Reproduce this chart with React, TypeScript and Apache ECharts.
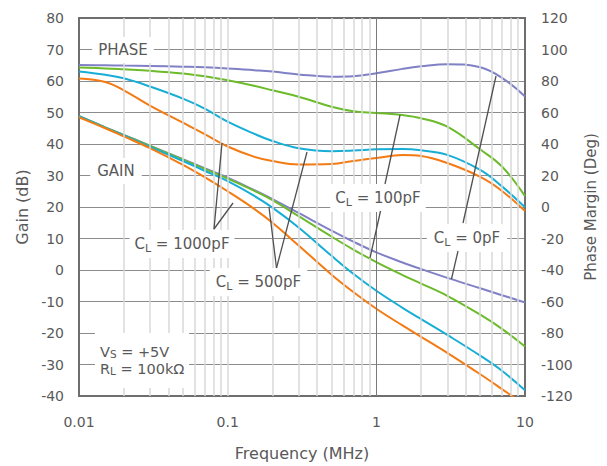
import React, { useEffect, useRef } from "react";
import * as echarts from "echarts";

// Frequency samples (MHz)
const freq = [0.01, 0.015, 0.02, 0.03, 0.05, 0.07, 0.1, 0.15, 0.2, 0.3, 0.5, 0.7, 1, 1.5, 2, 3, 5, 7, 10];

// Gain (dB), left axis
const gain0pF = [48.8, 45.3, 42.9, 39.5, 35.2, 32.3, 29.3, 25.4, 22.5, 18.1, 12.5, 9.0, 5.6, 2.4, 0.3, -2.5, -5.8, -8.0, -10.3];
const gain100pF = [48.8, 45.3, 42.8, 39.4, 35.0, 32.1, 29.0, 25.2, 22.2, 17.1, 10.6, 6.5, 2.5, -1.6, -4.3, -8.2, -14.2, -18.7, -24.3];
const gain500pF = [48.8, 45.2, 42.7, 39.1, 34.6, 31.5, 28.2, 23.6, 19.8, 13.5, 4.5, -1.2, -6.6, -12.0, -15.6, -20.6, -27.2, -32.0, -38.2];
const gain1000pF = [48.5, 45.0, 42.4, 38.7, 33.4, 29.5, 25.0, 19.5, 15.0, 7.8, -1.5, -7.0, -12.3, -17.6, -21.2, -26.3, -33.1, -37.8, -42.9];

// Phase margin (deg), right axis
const phase0pF = [90.1, 90.0, 89.8, 89.6, 89.1, 88.7, 88.0, 86.9, 86.0, 84.2, 82.7, 83.0, 84.9, 87.7, 89.3, 90.7, 88.7, 82.0, 70.2];
const phase100pF = [88.6, 88.0, 87.4, 86.5, 84.8, 83.0, 80.5, 77.0, 74.1, 70.0, 63.7, 60.8, 59.7, 58.4, 56.4, 51.0, 36.5, 25.7, 6.9];
const phase500pF = [86.0, 83.9, 81.7, 76.5, 68.8, 62.5, 54.2, 46.6, 41.9, 37.3, 35.4, 35.8, 36.6, 36.9, 36.0, 33.1, 23.5, 13.1, -0.2];
const phase1000pF = [81.6, 79.4, 74.1, 64.4, 53.5, 46.3, 38.4, 32.0, 29.2, 27.0, 27.3, 29.2, 31.1, 33.0, 32.4, 27.9, 19.1, 10.2, -2.6];

// Axis tick labels
const xTickLabels = ["0.01", "0.1", "1", "10"];

// Minor / major vertical grid lines (log decades)
const minorGridFreqs = [0.02, 0.03, 0.04, 0.05, 0.06, 0.07, 0.08, 0.09, 0.1, 0.2, 0.3, 0.4, 0.5, 0.6, 0.7, 0.8, 0.9, 2, 3, 4, 5, 6, 7, 8, 9];
const majorGridFreqs = [1];

const COLORS = {
  c0: "#8080c6",
  c100: "#6cbb2a",
  c500: "#17aed6",
  c1000: "#f47a12",
};

const FONT = "DejaVu Sans";
const TEXT = "#595959";

const pairs = (vals: number[]) => freq.map((f, i) => [f, vals[i]]);

const lineSeries = (name: string, vals: number[], color: string, axis: number) => ({
  name,
  type: "line",
  yAxisIndex: axis,
  data: pairs(vals),
  showSymbol: false,
  smooth: 0.4,
  clip: true,
  z: 3,
  lineStyle: { width: 2, color },
  itemStyle: { color },
});

const subRich = {
  s: { fontSize: 11, fontFamily: FONT, fill: TEXT, verticalAlign: "bottom", lineHeight: 11 },
};

const label = (x: number, y: number, text: string, pad: number[] = [4, 6]) => ({
  type: "text",
  x,
  y,
  z: 100,
  silent: true,
  style: {
    text,
    rich: subRich,
    fontSize: 15,
    fontFamily: FONT,
    fill: TEXT,
    lineHeight: 20,
    align: "center",
    verticalAlign: "middle",
    backgroundColor: "#ffffff",
    padding: pad,
  },
});

const plainLine = (x: number, y: number, text: string) => ({
  type: "text",
  x,
  y,
  z: 101,
  silent: true,
  style: {
    text,
    rich: { s: { fontSize: 10.5, fontFamily: FONT, fill: TEXT, verticalAlign: "bottom", lineHeight: 10 } },
    fontSize: 14.5,
    fontFamily: FONT,
    fill: TEXT,
    lineHeight: 15,
    align: "left",
    verticalAlign: "middle",
  },
});

const leader = (pts: number[][]) => ({
  type: "polyline",
  z: 101,
  silent: true,
  shape: { points: pts },
  style: { stroke: "#505050", lineWidth: 1.3, fill: "none" },
});

export default function App() {
  const ref = useRef<HTMLDivElement>(null);

  useEffect(() => {
    document.body.style.margin = "0";
    if (!ref.current) return;
    const chart = echarts.init(ref.current, null, { renderer: "svg" });

    const option: any = {
      animation: false,
      backgroundColor: "#ffffff",
      grid: {
        show: true,
        z: 1,
        left: 79,
        right: 82,
        top: 18,
        bottom: 69,
        borderColor: "#6e6e6e",
        borderWidth: 2,
        backgroundColor: "rgba(0,0,0,0)",
      },
      xAxis: {
        type: "log",
        logBase: 10,
        min: 0.01,
        max: 10,
        name: "Frequency (MHz)",
        nameLocation: "middle",
        nameGap: 49,
        nameTextStyle: { fontSize: 16, fontFamily: FONT, color: TEXT },
        axisLine: { show: false },
        axisTick: { show: false },
        splitLine: { show: false },
        axisLabel: {
          margin: 19,
          fontSize: 14,
          fontFamily: FONT,
          color: TEXT,
          formatter: (v: number) => xTickLabels[Math.round(Math.log10(v)) + 2],
        },
      },
      yAxis: [
        {
          type: "value",
          min: -40,
          max: 80,
          interval: 10,
          name: "Gain (dB)",
          nameLocation: "middle",
          nameGap: 46,
          nameTextStyle: { fontSize: 16, fontFamily: FONT, color: TEXT },
          axisLine: { show: false },
          axisTick: { show: false },
          splitLine: { show: true, lineStyle: { color: "#8c8c8c", width: 1 } },
          axisLabel: { margin: 15, fontSize: 14, fontFamily: FONT, color: TEXT },
        },
        {
          type: "value",
          position: "right",
          min: -120,
          max: 120,
          interval: 20,
          name: "Phase Margin (Deg)",
          nameLocation: "middle",
          nameGap: 58,
          nameTextStyle: { fontSize: 15, fontFamily: FONT, color: TEXT },
          axisLine: { show: false },
          axisTick: { show: false },
          splitLine: { show: false },
          axisLabel: { margin: 16, fontSize: 14, fontFamily: FONT, color: TEXT },
        },
      ],
      series: [
        {
          type: "line",
          data: [],
          z: 1,
          silent: true,
          markLine: {
            silent: true,
            symbol: "none",
            animation: false,
            label: { show: false },
            lineStyle: { color: "#d8d8d8", width: 1.5, type: "solid" },
            data: [
              ...minorGridFreqs.map((f) => ({ xAxis: f })),
              ...majorGridFreqs.map((f) => ({ xAxis: f, lineStyle: { color: "#7a7a7a", width: 1, type: "solid" } })),
            ],
          },
        },
        lineSeries("Phase 0pF", phase0pF, COLORS.c0, 1),
        lineSeries("Phase 100pF", phase100pF, COLORS.c100, 1),
        lineSeries("Phase 500pF", phase500pF, COLORS.c500, 1),
        lineSeries("Phase 1000pF", phase1000pF, COLORS.c1000, 1),
        lineSeries("Gain 0pF", gain0pF, COLORS.c0, 0),
        lineSeries("Gain 100pF", gain100pF, COLORS.c100, 0),
        lineSeries("Gain 500pF", gain500pF, COLORS.c500, 0),
        lineSeries("Gain 1000pF", gain1000pF, COLORS.c1000, 0),
      ],
      graphic: [
        leader([[214, 229], [222, 143]]),
        leader([[214, 229], [233, 203]]),
        leader([[276.5, 268], [269, 207]]),
        leader([[276.5, 268], [307, 152]]),
        leader([[385, 184], [400, 115]]),
        leader([[380.5, 211], [370, 258]]),
        leader([[463, 223], [496, 76]]),
        leader([[458, 251], [451.5, 279]]),
        label(123, 50, "PHASE", [3, 6]),
        label(116, 171, "GAIN", [3, 7]),
        label(182, 244, "C{s|L} = 1000pF", [4, 5]),
        label(258.5, 282, "C{s|L} = 500pF", [4, 6]),
        label(378, 198, "C{s|L} = 100pF", [4, 5]),
        label(467, 238, "C{s|L} = 0pF", [4, 7]),
        {
          type: "rect",
          z: 100,
          silent: true,
          shape: { x: 95, y: 333, width: 94, height: 55 },
          style: { fill: "#ffffff" },
        },
        plainLine(100, 352, "V{s|S} = +5V"),
        plainLine(100, 369, "R{s|L} = 100kΩ"),
      ],
    };

    chart.setOption(option);
    return () => chart.dispose();
  }, []);

  return <div ref={ref} style={{ width: 607, height: 466 }} />;
}
